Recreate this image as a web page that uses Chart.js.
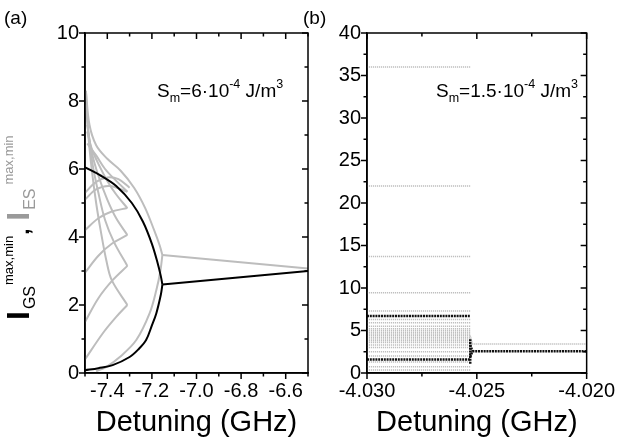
<!DOCTYPE html>
<html>
<head>
<meta charset="utf-8">
<script src="https://cdn.jsdelivr.net/npm/chart.js@4.4.1/dist/chart.umd.min.js"></script>
<style>
  body { margin: 0; background: #fff; }
  #wrap { position: relative; width: 621px; height: 442px; }
  canvas { position: absolute; top: 0; }
  #chartA { left: 0; }
  #chartB { left: 295px; }
</style>
</head>
<body>
<div id="wrap">
  <canvas id="chartA" width="320" height="442"></canvas>
  <canvas id="chartB" width="326" height="442"></canvas>
</div>
<script>
const FONT = '"Liberation Sans", Arial, sans-serif';

// ---- panel (a): S_m = 6e-4 J/m^3 ----
const xTicksA = [-7.4, -7.2, -7.0, -6.8, -6.6];
const xMinorA = [-7.5, -7.3, -7.1, -6.9, -6.7, -6.5];
const yTicksA = [0, 2, 4, 6, 8, 10];
const yMinorA = [1, 3, 5, 7, 9];

// ground-state extrema (black)
const gsUpperA = [[-7.5, 6.05], [-7.433, 5.82], [-7.36, 5.5], [-7.29, 5.0], [-7.24, 4.45], [-7.20, 3.8], [-7.175, 3.25], [-7.16, 2.85], [-7.153, 2.6]];
const gsLowerA = [[-7.153, 2.6], [-7.16, 2.3], [-7.18, 1.76], [-7.20, 1.4], [-7.226, 0.97], [-7.26, 0.7], [-7.30, 0.47], [-7.376, 0.23], [-7.44, 0.14], [-7.5, 0.08]];
const gsSteadyA = [[-7.153, 2.6], [-6.5, 3.0]];

// excited-state extrema (grey)
const esOuterA = [[-7.496, 8.3], [-7.48, 7.3], [-7.45, 6.7], [-7.40, 6.3], [-7.34, 5.95], [-7.28, 5.45], [-7.23, 4.85], [-7.19, 4.2], [-7.165, 3.75], [-7.153, 3.47]];
const esLowerA = [[-7.153, 3.47], [-7.162, 3.0], [-7.18, 2.44], [-7.21, 1.76], [-7.27, 0.97], [-7.344, 0.47], [-7.404, 0.18], [-7.45, 0.05]];
const esSteadyA = [[-7.153, 3.47], [-6.5, 3.07]];
const esRiseA = [
  [[-7.5, 0.4], [-7.42, 1.17], [-7.36, 1.65], [-7.31, 2.0]],
  [[-7.5, 1.5], [-7.44, 2.2], [-7.376, 2.73], [-7.31, 3.15]],
  [[-7.5, 2.95], [-7.44, 3.45], [-7.38, 3.8], [-7.31, 4.06]],
  [[-7.5, 4.2], [-7.44, 4.55], [-7.38, 4.75], [-7.31, 4.85]],
  [[-7.5, 5.1], [-7.45, 5.4], [-7.39, 5.5], [-7.31, 5.33]],
  [[-7.5, 5.3], [-7.45, 5.62], [-7.40, 5.75], [-7.35, 5.7], [-7.30, 5.45]]
];
const esFallA = [
  [[-7.31, 2.0], [-7.38, 2.73], [-7.404, 3.3], [-7.43, 4.2], [-7.45, 5.0], [-7.47, 6.0], [-7.485, 7.0], [-7.496, 8.3]],
  [[-7.31, 3.15], [-7.37, 3.85], [-7.41, 4.5], [-7.44, 5.3], [-7.465, 6.1], [-7.485, 7.1], [-7.496, 7.9]],
  [[-7.31, 4.06], [-7.36, 4.55], [-7.40, 5.1], [-7.44, 5.8], [-7.47, 6.5], [-7.49, 7.3]],
  [[-7.31, 4.85], [-7.36, 5.25], [-7.40, 5.65], [-7.44, 6.15], [-7.47, 6.6], [-7.49, 7.1]],
  [[-7.31, 5.33], [-7.36, 5.65], [-7.41, 6.0], [-7.45, 6.4], [-7.49, 6.75]]
];

// ---- panel (b): S_m = 1.5e-4 J/m^3 ----
const xTicksB = [-4.030, -4.025, -4.020];
const xMinorB = [-4.0275, -4.0225];
const yTicksB = [0, 5, 10, 15, 20, 25, 30, 35, 40];
const yMinorB = [2.5, 7.5, 12.5, 17.5, 22.5, 27.5, 32.5, 37.5];
const startB = -4.030, stepB = -4.0253, endB = -4.020;
const esLevelsB = [36.0, 22.0, 13.7, 9.45, 7.3, 6.3, 5.9, 5.5, 5.2, 5.0, 4.8, 4.6, 4.4, 4.2, 4.0, 3.8, 3.6, 3.3, 3.0, 2.5, 2.0, 1.3, 0.75, 0.35];
const gsLevelsB = [6.7, 1.6];
const gsJumpB = [1.1, 4.0];
const gsTailB = 2.55, esTailB = 3.4;
const gsMergeB = [3.3, 1.9];
const esMergeB = 4.4;
const mergeEndB = -4.0252;

const pts = arr => arr.map(([x, y]) => ({ x, y }));
const gsLine = d => ({ data: pts(d), borderColor: '#000', borderWidth: 2, pointRadius: 0, showLine: true, tension: 0.35 });
const esLine = d => ({ data: pts(d), borderColor: '#bdbdbd', borderWidth: 2, pointRadius: 0, showLine: true, tension: 0.35 });
const gsDots = d => ({ data: pts(d), borderColor: '#111', borderWidth: 2.5, borderDash: [2, 0.8], pointRadius: 0, showLine: true });
const esDots = d => ({ data: pts(d), borderColor: '#bfbfbf', borderWidth: 1.5, borderDash: [1.2, 0.8], pointRadius: 0, showLine: true });

// frame, inward/outward tick marks and free text
const frameTicks = {
  id: 'frameTicks',
  afterDraw(chart, args, o) {
    const { ctx, chartArea: a, scales: { x, y } } = chart;
    ctx.save();
    ctx.strokeStyle = '#000';
    ctx.lineWidth = 1.5;
    ctx.strokeRect(a.left, a.top, a.right - a.left, a.bottom - a.top);
    const mark = (px, py, dx, dy) => { ctx.beginPath(); ctx.moveTo(px, py); ctx.lineTo(px + dx, py + dy); ctx.stroke(); };
    const xs = (vals, len) => vals.forEach(v => { const p = x.getPixelForValue(v); mark(p, a.bottom, 0, len); mark(p, a.top, 0, len); });
    const ys = (vals, len) => vals.forEach(v => { const p = y.getPixelForValue(v); mark(a.left, p, -len, 0); mark(a.right, p, -len, 0); });
    xs(o.xMajor, 6); xs(o.xMinor, 3.5);
    ys(o.yMajor, 6); ys(o.yMinor, 3.5);
    ctx.fillStyle = '#000';
    ctx.textBaseline = 'alphabetic';
    ctx.font = '19px ' + FONT;
    ctx.fillText(o.panel, o.panelX, 24);
    drawSm(ctx, o.smX, 97, o.coef);
    if (o.yTitle) drawYTitle(ctx);
    ctx.restore();
  }
};

function drawSm(ctx, x, y, coef) {
  const big = '19px ' + FONT, small = '12.5px ' + FONT;
  let cx = x;
  const put = (t, f, dy) => { ctx.font = f; ctx.fillText(t, cx, y + dy); cx += ctx.measureText(t).width; };
  put('S', big, 0); put('m', small, 5); put('=' + coef + '\u00b710', big, 0);
  put('-4', small, -9); put(' J/m', big, 0); put('3', small, -9);
}

function drawYTitle(ctx) {
  ctx.save();
  ctx.translate(29, 320);
  ctx.rotate(-Math.PI / 2);
  const put = (t, f, c, x, y) => { ctx.font = f; ctx.fillStyle = c; ctx.fillText(t, x, y); return x + ctx.measureText(t).width; };
  let cx = put('I', 'bold 32px ' + FONT, '#000', 0, 0);
  cx = put('GS', '16px ' + FONT, '#000', cx + 2, 6);
  cx = put('max,min', '13px ' + FONT, '#000', cx + 1, -16);
  cx = put(',', 'bold 22px ' + FONT, '#000', cx + 1, 0);
  cx = put('I', 'bold 32px ' + FONT, '#9a9a9a', cx + 8, 0);
  cx = put('ES', '16px ' + FONT, '#9a9a9a', cx + 2, 6);
  put('max,min', '13px ' + FONT, '#9a9a9a', cx + 4, -16);
  ctx.restore();
}

function axes(xr, yr, xT, yT, yWidth, xLabel) {
  const tickFont = { size: 20, family: FONT };
  return {
    x: {
      type: 'linear', min: xr[0], max: xr[1],
      grid: { display: false, drawTicks: false },
      border: { display: true, color: '#000', width: 1.5 },
      afterBuildTicks: s => { s.ticks = xT.map(v => ({ value: v })); },
      afterFit: s => { s.height = 69; },
      ticks: { font: tickFont, color: '#000', padding: 6, maxRotation: 0, autoSkip: false, callback: xLabel },
      title: { display: true, text: 'Detuning (GHz)', font: { size: 29, family: FONT }, color: '#000', padding: { top: 0, bottom: 2 } }
    },
    y: {
      type: 'linear', min: yr[0], max: yr[1],
      grid: { display: false, drawTicks: false },
      border: { display: true, color: '#000', width: 1.5 },
      afterBuildTicks: s => { s.ticks = yT.map(v => ({ value: v })); },
      afterFit: s => { s.width = yWidth; },
      ticks: { font: tickFont, color: '#000', padding: 6, autoSkip: false }
    }
  };
}

const baseOpts = { responsive: false, animation: false, devicePixelRatio: 1,
  plugins: { legend: { display: false }, tooltip: { enabled: false } } };

// panel (a)
const dsA = [gsLine(gsUpperA), gsLine(gsLowerA), gsLine(gsSteadyA),
  esLine(esOuterA), esLine(esLowerA), esLine(esSteadyA),
  ...esRiseA.map(esLine), ...esFallA.map(esLine)];

new Chart(document.getElementById('chartA'), {
  type: 'scatter',
  data: { datasets: dsA },
  options: {
    ...baseOpts,
    layout: { padding: { top: 33, right: 12, left: 0, bottom: 0 } },
    scales: axes([-7.5, -6.5], [0, 10], xTicksA, yTicksA, 85, v => v.toFixed(1)),
    plugins: { ...baseOpts.plugins,
      frameTicks: { xMajor: xTicksA, xMinor: xMinorA, yMajor: yTicksA, yMinor: yMinorA,
        panel: '(a)', panelX: 4, smX: 157, coef: '6', yTitle: true } }
  },
  plugins: [frameTicks]
});

// panel (b)
const dsB = [
  ...gsLevelsB.map(v => gsDots([[startB, v], [stepB, v]])),
  gsDots([[stepB, gsJumpB[0]], [stepB, gsJumpB[1]]]),
  ...gsMergeB.map(v => gsDots([[stepB, v], [mergeEndB, gsTailB]])),
  gsDots([[mergeEndB, gsTailB], [endB, gsTailB]]),
  esDots([[stepB, esMergeB], [mergeEndB, esTailB], [endB, esTailB]]),
  ...esLevelsB.map(v => esDots([[startB, v], [stepB, v]]))
];

new Chart(document.getElementById('chartB'), {
  type: 'scatter',
  data: { datasets: dsB },
  options: {
    ...baseOpts,
    layout: { padding: { top: 33, right: 30, left: 0, bottom: 0 } },
    scales: axes([-4.030, -4.020], [0, 40], xTicksB, yTicksB, 72, v => v.toFixed(3)),
    plugins: { ...baseOpts.plugins,
      frameTicks: { xMajor: xTicksB, xMinor: xMinorB, yMajor: yTicksB, yMinor: yMinorB,
        panel: '(b)', panelX: 8, smX: 141, coef: '1.5', yTitle: false } }
  },
  plugins: [frameTicks]
});
</script>
</body>
</html>
